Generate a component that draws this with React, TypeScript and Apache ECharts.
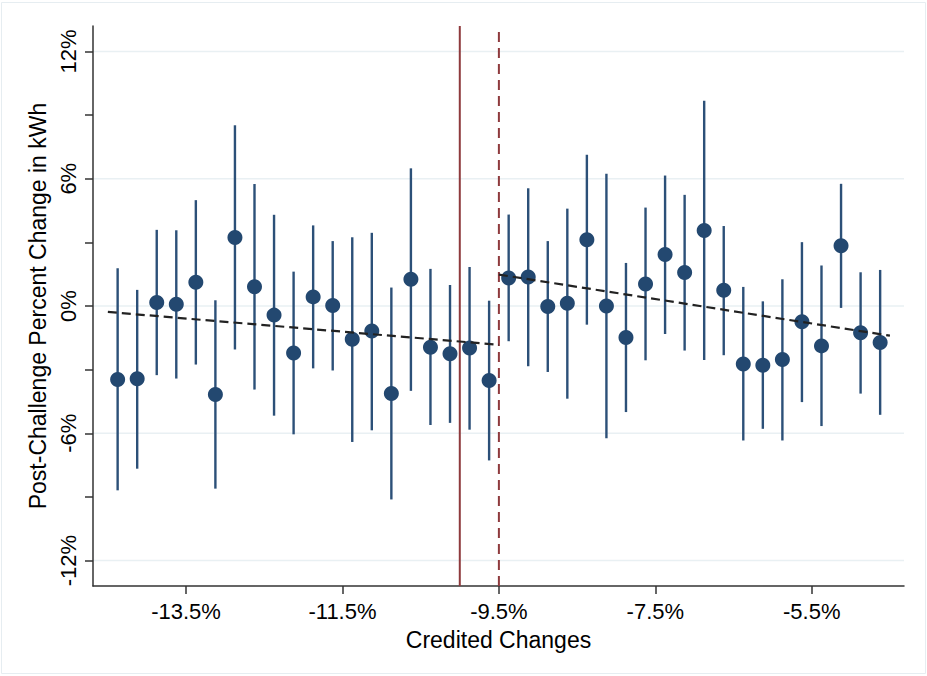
import React, { useEffect, useRef } from "react";
import * as echarts from "echarts";

// ---- Data ----
const xTickValues = [-13.5, -11.5, -9.5, -7.5, -5.5];
const yLabelValues = [-12, -6, 0, 6, 12];
const yTickValues = [-12, -9, -6, -3, 0, 3, 6, 9, 12];

const leftX = [-14.375, -14.125, -13.875, -13.625, -13.375, -13.125, -12.875, -12.625, -12.375, -12.125,
  -11.875, -11.625, -11.375, -11.125, -10.875, -10.625, -10.375, -10.125, -9.875, -9.625];
const leftEst = [-3.46, -3.43, 0.17, 0.08, 1.12, -4.17, 3.23, 0.91, -0.43, -2.22,
  0.43, 0.02, -1.57, -1.18, -4.13, 1.26, -1.94, -2.25, -1.98, -3.51];
const leftHi = [1.78, 0.76, 3.59, 3.57, 4.99, 0.27, 8.52, 5.75, 4.30, 1.62,
  3.80, 3.06, 3.24, 3.45, 0.87, 6.49, 1.75, 0.99, 1.84, 0.25];
const leftLo = [-8.69, -7.67, -3.26, -3.42, -2.76, -8.61, -2.05, -3.94, -5.17, -6.05,
  -2.94, -3.04, -6.41, -5.86, -9.12, -4.00, -5.61, -5.51, -5.83, -7.28];

const rightX = [-9.375, -9.125, -8.875, -8.625, -8.375, -8.125, -7.875, -7.625, -7.375, -7.125,
  -6.875, -6.625, -6.375, -6.125, -5.875, -5.625, -5.375, -5.125, -4.875, -4.625];
const rightEst = [1.32, 1.37, -0.02, 0.13, 3.12, 0.00, -1.48, 1.04, 2.43, 1.58,
  3.56, 0.74, -2.73, -2.79, -2.52, -0.74, -1.88, 2.84, -1.26, -1.72];
const rightHi = [4.31, 5.55, 3.06, 4.59, 7.13, 6.23, 2.03, 4.64, 6.15, 5.24,
  9.68, 3.77, 0.90, 0.22, 1.26, 3.01, 1.91, 5.76, 1.59, 1.70];
const rightLo = [-1.66, -2.84, -3.11, -4.37, -0.88, -6.23, -5.00, -2.56, -1.32, -2.10,
  -2.54, -2.32, -6.34, -5.79, -6.34, -4.53, -5.66, -0.09, -4.13, -5.13];

const leftFitX = [-14.5, -9.5];
const leftFitY = [-0.28, -1.83];
const rightFitX = [-9.5, -4.5];
const rightFitY = [1.48, -1.4];

const cutoffSolid = -10;
const cutoffDashed = -9.5;

const xMin = -14.69;
const xMax = -4.32;
const yMin = -13.2;
const yMax = 13.2;

const FONT = "'Liberation Sans', Arial, Helvetica, sans-serif";
const POINT_COLOR = "#234870";
const BAR_COLOR = "#2c5078";
const RED = "#8e3a3d";
const AXIS_COLOR = "#333333";
const GRID_COLOR = "#e9f0f3";

export default function App() {
  const ref = useRef<HTMLDivElement>(null);

  useEffect(() => {
    document.body.style.margin = "0";
    if (!ref.current) return;
    const chart = echarts.init(ref.current, undefined, { renderer: "svg" });

    const allX = [...leftX, ...rightX];
    const allEst = [...leftEst, ...rightEst];
    const allHi = [...leftHi, ...rightHi];
    const allLo = [...leftLo, ...rightLo];

    const barData = allX.map((x, i) => [x, allLo[i], allHi[i]]);
    const pointData = allX.map((x, i) => [x, allEst[i]]);
    const gridData = yLabelValues.map((v) => [xMin, v, xMax]);

    const option: any = {
      animation: false,
      backgroundColor: "#ffffff",
      grid: { left: 93, right: 23, top: 26, bottom: 90, containLabel: false, outerBoundsMode: "none" },
      graphic: [
        {
          type: "rect",
          shape: { x: 1.5, y: 2.5, width: 924, height: 671 },
          style: { fill: "none", stroke: "#e6edf1", lineWidth: 1 },
          silent: true,
          z: -10,
        },
      ],
      xAxis: {
        type: "value",
        min: xMin,
        max: xMax,
        axisLine: { show: true, onZero: false, lineStyle: { color: AXIS_COLOR, width: 1.5 } },
        axisTick: {
          show: true,
          customValues: xTickValues,
          length: 8,
          lineStyle: { color: AXIS_COLOR, width: 1.5 },
        },
        axisLabel: {
          customValues: xTickValues,
          formatter: (v: number) => v.toFixed(1) + "%",
          fontSize: 22,
          color: "#000",
          margin: 14,
          fontFamily: FONT,
        },
        splitLine: { show: false },
        name: "Credited Changes",
        nameLocation: "middle",
        nameGap: 42,
        nameTextStyle: { fontSize: 23, color: "#000", fontFamily: FONT },
      },
      yAxis: {
        type: "value",
        min: yMin,
        max: yMax,
        axisLine: { show: true, onZero: false, lineStyle: { color: AXIS_COLOR, width: 1.5 } },
        axisTick: {
          show: true,
          customValues: yTickValues,
          length: 8,
          lineStyle: { color: AXIS_COLOR, width: 1.5 },
        },
        axisLabel: {
          customValues: yLabelValues,
          formatter: (v: number) => v + "%",
          rotate: 90,
          fontSize: 22,
          color: "#000",
          margin: 14,
          fontFamily: FONT,
        },
        splitLine: { show: false },
        name: "Post-Challenge Percent Change in kWh",
        nameLocation: "middle",
        nameGap: 38,
        nameTextStyle: { fontSize: 23, color: "#000", fontFamily: FONT },
      },
      series: [
        {
          type: "custom",
          name: "grid",
          silent: true,
          z: 0,
          encode: { x: [0, 2], y: 1 },
          data: gridData,
          renderItem: (params: any, api: any) => {
            const p1 = api.coord([api.value(0), api.value(1)]);
            const p2 = api.coord([api.value(2), api.value(1)]);
            return {
              type: "line",
              shape: { x1: p1[0], y1: p1[1], x2: p2[0], y2: p2[1] },
              style: { stroke: GRID_COLOR, lineWidth: 1.6 },
            };
          },
        },
        {
          type: "line",
          name: "cutoff",
          silent: true,
          symbol: "none",
          z: 1,
          data: [[cutoffSolid, yMin], [cutoffSolid, yMax]],
          lineStyle: { color: RED, width: 2 },
        },
        {
          type: "line",
          name: "cutoff2",
          silent: true,
          symbol: "none",
          z: 1,
          data: [[cutoffDashed, yMin], [cutoffDashed, yMax]],
          lineStyle: { color: RED, width: 2, type: [10, 6] },
        },
        {
          type: "custom",
          name: "ci",
          silent: true,
          z: 2,
          encode: { x: 0, y: [1, 2] },
          data: barData,
          renderItem: (params: any, api: any) => {
            const x = api.value(0);
            const p1 = api.coord([x, api.value(1)]);
            const p2 = api.coord([x, api.value(2)]);
            return {
              type: "line",
              shape: { x1: p1[0], y1: p1[1], x2: p2[0], y2: p2[1] },
              style: { stroke: BAR_COLOR, lineWidth: 2.4 },
            };
          },
        },
        {
          type: "scatter",
          name: "estimates",
          silent: true,
          z: 3,
          symbol: "circle",
          symbolSize: 15,
          itemStyle: { color: POINT_COLOR, opacity: 1 },
          data: pointData,
        },
        {
          type: "line",
          name: "fitLeft",
          silent: true,
          symbol: "none",
          z: 4,
          data: leftFitX.map((x, i) => [x, leftFitY[i]]),
          lineStyle: { color: "#222222", width: 2.2, type: [9, 5] },
        },
        {
          type: "line",
          name: "fitRight",
          silent: true,
          symbol: "none",
          z: 4,
          data: rightFitX.map((x, i) => [x, rightFitY[i]]),
          lineStyle: { color: "#222222", width: 2.2, type: [9, 5] },
        },
      ],
    };

    chart.setOption(option);
    return () => {
      chart.dispose();
    };
  }, []);

  return <div ref={ref} style={{ width: 927, height: 676 }} />;
}
